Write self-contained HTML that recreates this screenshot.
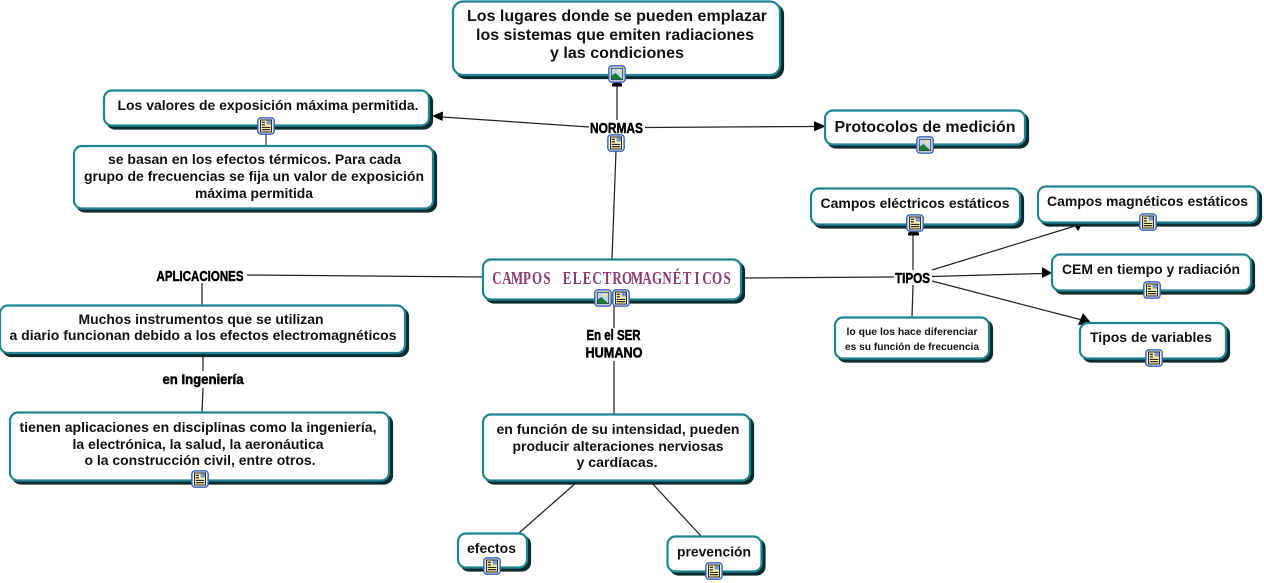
<!DOCTYPE html>
<html><head><meta charset="utf-8"><style>
html,body{margin:0;padding:0;background:#fff;width:1264px;height:583px;overflow:hidden}
svg{display:block}
text{font-family:"Liberation Sans",sans-serif;font-weight:bold;fill:#111;text-anchor:middle}
.l{font-family:"Liberation Sans Narrow","Liberation Sans",sans-serif;font-size:15px;fill:#000;stroke:#000;stroke-width:.5}
.b{fill:#fff;stroke:#1f8490;stroke-width:2.2;filter:drop-shadow(3.5px 3.5px 0 #0c2b2f)}
.c{stroke:#222;stroke-width:1.25;fill:none}
.a{fill:#000}
</style></head><body>
<svg width="1264" height="583" viewBox="0 0 1264 583" xmlns="http://www.w3.org/2000/svg">
<defs>
<symbol id="img" viewBox="0 0 17 17">
<rect x=".8" y=".8" width="15.4" height="15.4" rx="3" fill="#fff" stroke="#3a66b8" stroke-width="1.4"/>
<rect x="3" y="3" width="11" height="11" fill="#bcd8ee" stroke="#123" stroke-width=".8"/>
<circle cx="10.500" cy="5.800" r="1.600" fill="#f4e48c"/>
<path d="M3.400 13.600V10L7 7.500l6.600 6.100z" fill="#1d7a3c"/>
</symbol>
<symbol id="doc" viewBox="0 0 17 17">
<rect x=".8" y=".8" width="15.4" height="15.4" rx="3" fill="#fff" stroke="#3a66b8" stroke-width="1.4"/>
<rect x="3.200" y="2.800" width="10.600" height="11.400" fill="#f7f1b0" stroke="#111" stroke-width=".9"/>
<rect x="9" y="3.200" width="4.400" height="4" fill="#7d94c4"/>
<path d="M4.500 5h3M4.500 7.400h3M4.500 9.800h8M4.500 12h8" stroke="#111" stroke-width="1"/>
</symbol>
</defs>

<!-- connectors -->
<path class="c" d="M617 85V121"/>
<path class="a" d="M612 86.500h10v-2.500l-2-1.500h-6l-2 1.500z"/>
<path class="c" d="M589 127L442 117"/>
<path class="a" d="M432 116l11-4.500-.4 9.500z"/>
<path class="c" d="M645 127.500L815 126.500"/>
<path class="a" d="M826 126.300l-12 5v-10z"/>
<path class="c" d="M616 151L612 259"/>
<path class="c" d="M266 125V146" style="stroke:#666;stroke-width:1.6"/>
<path class="c" d="M247 275L483 277"/>
<path class="c" d="M742 278L894 277"/>
<path class="c" d="M614 305V328"/>
<path class="c" d="M614 361V414"/>
<path class="c" d="M913 235V270"/>
<path class="a" d="M908 235.500h11v-2.500l-2-1.500h-7l-2 1.500z"/>
<path class="c" d="M913 285L912 317"/>
<path class="c" d="M932 270L1075 226"/>
<path class="a" d="M1086 218l-8 13-6-9z"/>
<path class="c" d="M932 276.500L1042 273.500"/>
<path class="a" d="M1052 273l-10 5v-11z"/>
<path class="c" d="M932 281L1082 320"/>
<path class="a" d="M1092 324l-14 1 5-12z"/>
<path class="c" d="M202 283V305"/>
<path class="c" d="M203 356V371"/>
<path class="c" d="M203 388L202 412"/>
<path class="c" d="M577 482L519 533"/>
<path class="c" d="M651 482L701 536"/>

<!-- boxes -->
<rect class="b" x="453" y="1.500" width="327" height="73.500" rx="10"/>
<rect class="b" x="104" y="90.500" width="325" height="35" rx="8"/>
<rect class="b" x="74" y="146" width="359" height="62.500" rx="8"/>
<rect class="b" x="825" y="110.500" width="200" height="34" rx="8"/>
<rect class="b" x="811" y="188.500" width="209" height="36" rx="8"/>
<rect class="b" x="1038" y="186.500" width="220" height="36" rx="8"/>
<rect class="b" x="1052" y="254.500" width="199" height="36" rx="8"/>
<rect class="b" x="1080" y="323" width="146" height="35.500" rx="8"/>
<rect class="b" x="835" y="317.500" width="154" height="41" rx="8"/>
<rect class="b" x="483" y="259.500" width="258" height="40" rx="8"/>
<rect class="b" x="0" y="305.500" width="405" height="47.500" rx="8"/>
<rect class="b" x="10" y="412.500" width="379" height="68" rx="8"/>
<rect class="b" x="483" y="414.500" width="267" height="66" rx="8"/>
<rect class="b" x="458" y="533.500" width="69" height="34" rx="8"/>
<rect class="b" x="667.500" y="536.500" width="94" height="35" rx="8"/>

<!-- icons -->
<use href="#img" x="608" y="65" width="18" height="18"/>
<use href="#doc" x="607" y="134" width="18" height="18"/>
<use href="#doc" x="257" y="117" width="18" height="18"/>
<use href="#img" x="916" y="136" width="18" height="18"/>
<use href="#doc" x="906" y="214" width="18" height="18"/>
<use href="#doc" x="1139" y="213" width="18" height="18"/>
<use href="#doc" x="1143" y="281" width="18" height="18"/>
<use href="#doc" x="1145" y="349" width="18" height="18"/>
<use href="#img" x="594" y="289" width="18" height="18"/>
<use href="#doc" x="612" y="289" width="18" height="18"/>
<use href="#doc" x="191" y="470" width="18" height="18"/>
<use href="#doc" x="483" y="557" width="18" height="18"/>
<use href="#doc" x="705" y="562" width="18" height="18"/>

<!-- node text -->
<g font-size="15.500">
<text x="617" y="21" textLength="300" lengthAdjust="spacingAndGlyphs">Los lugares donde se pueden emplazar</text>
<text x="615" y="40" textLength="278" lengthAdjust="spacingAndGlyphs">los sistemas que emiten radiaciones</text>
<text x="617" y="58" textLength="134" lengthAdjust="spacingAndGlyphs">y las condiciones</text>
</g>
<g font-size="13.500">
<text x="268" y="110" textLength="301" lengthAdjust="spacingAndGlyphs">Los valores de exposición máxima permitida.</text>
<text x="254.500" y="164" textLength="293" lengthAdjust="spacingAndGlyphs">se basan en los efectos térmicos. Para cada</text>
<text x="254" y="181" textLength="340" lengthAdjust="spacingAndGlyphs">grupo de frecuencias se fija un valor de exposición</text>
<text x="254" y="198" textLength="118" lengthAdjust="spacingAndGlyphs">máxima permitida</text>
<text x="915" y="208" textLength="189" lengthAdjust="spacingAndGlyphs">Campos eléctricos estáticos</text>
<text x="1147.500" y="206" textLength="201" lengthAdjust="spacingAndGlyphs">Campos magnéticos estáticos</text>
<text x="1151" y="274" textLength="178" lengthAdjust="spacingAndGlyphs">CEM en tiempo y radiación</text>
<text x="1151" y="342" textLength="122" lengthAdjust="spacingAndGlyphs">Tipos de variables</text>
<text x="201" y="324" textLength="245" lengthAdjust="spacingAndGlyphs">Muchos instrumentos que se utilizan</text>
<text x="203" y="340" textLength="387" lengthAdjust="spacingAndGlyphs">a diario funcionan debido a los efectos electromagnéticos</text>
<text x="198" y="432" textLength="357" lengthAdjust="spacingAndGlyphs">tienen aplicaciones en disciplinas como la ingeniería,</text>
<text x="198" y="449" textLength="251" lengthAdjust="spacingAndGlyphs">la electrónica, la salud, la aeronáutica</text>
<text x="200" y="465" textLength="231" lengthAdjust="spacingAndGlyphs">o la construcción civil, entre otros.</text>
<text x="618" y="434" textLength="243" lengthAdjust="spacingAndGlyphs">en función de su intensidad, pueden</text>
<text x="618" y="451" textLength="211" lengthAdjust="spacingAndGlyphs">producir alteraciones nerviosas</text>
<text x="617" y="467" textLength="81" lengthAdjust="spacingAndGlyphs">y cardíacas.</text>
<text x="491.500" y="553" textLength="49" lengthAdjust="spacingAndGlyphs">efectos</text>
<text x="714" y="556.500" textLength="74" lengthAdjust="spacingAndGlyphs">prevención</text>
</g>
<text x="925" y="132" font-size="15.500" textLength="181" lengthAdjust="spacingAndGlyphs">Protocolos de medición</text>
<text x="912" y="335" font-size="10.500" textLength="131" lengthAdjust="spacingAndGlyphs">lo que los hace diferenciar</text>
<text x="912" y="350" font-size="10.500" textLength="134" lengthAdjust="spacingAndGlyphs">es su función de frecuencia</text>
<text transform="translate(492,284) scale(.72,1)" font-size="18" style="font-family:'Liberation Serif',serif;font-weight:bold;fill:#8a3a72" x="6.9 20.8 34.7 48.6 62.5 76.4 90.3 104.2 118.1 132 145.9 159.8 173.7 187.6 201.4 215.3 229.2 243.1 257 270.9 284.8 298.7 312.6 326.5">CAMPOS ELECTROMAGNÉTICOS</text>

<!-- linking phrases -->
<rect x="589" y="120" width="55" height="14" fill="#fff"/>
<text class="l" x="616.500" y="133" textLength="53" lengthAdjust="spacingAndGlyphs">NORMAS</text>
<rect x="154" y="268" width="91" height="15" fill="#fff"/>
<text class="l" x="200" y="281" textLength="87" lengthAdjust="spacingAndGlyphs">APLICACIONES</text>
<rect x="894" y="270" width="38" height="15" fill="#fff"/>
<text class="l" x="912.500" y="283" textLength="35" lengthAdjust="spacingAndGlyphs">TIPOS</text>
<text class="l" x="613.500" y="340" style="font-size:14.500px" textLength="54" lengthAdjust="spacingAndGlyphs">En el SER</text>
<text class="l" x="614" y="357.500" style="font-size:14.500px" textLength="57" lengthAdjust="spacingAndGlyphs">HUMANO</text>
<text class="l" x="203" y="384" style="font-size:13.500px" textLength="81" lengthAdjust="spacingAndGlyphs">en Ingeniería</text>
</svg>
</body></html>
